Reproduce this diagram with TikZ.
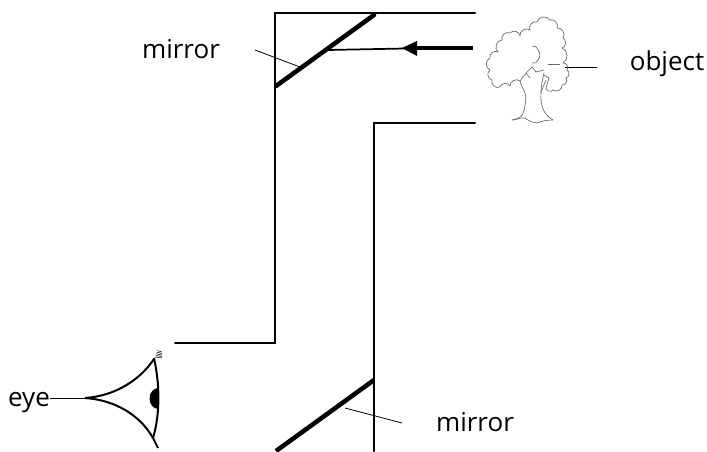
\documentclass[tikz,border=0pt]{standalone}
\usepackage{fontspec}
\setmainfont{Open Sans}
\tikzset{
  wall/.style={line width=1.5pt,line cap=round,line join=miter},
  mirrorline/.style={line width=3.4pt,line cap=round},
  leader/.style={line width=0.6pt},
  lbl/.style={font=\fontsize{19.5}{22}\selectfont,inner sep=0pt,anchor=base},
  treeline/.style={draw=black!60,line width=0.5pt,line join=round},
  scal/.style={bend left=70,looseness=1.1},
  eyeline/.style={line width=1.5pt},
}
\begin{document}
\begin{tikzpicture}[x=0.75pt,y=-0.75pt]
\useasboundingbox (0,0) rectangle (707,451);
% walls
\draw[wall] (475,13) -- (275,13) -- (275,343) -- (175,343);
\draw[wall] (475,123) -- (374,123) -- (374,451);
% mirrors
\draw[mirrorline] (276,86) -- (374,15);
\draw[mirrorline,line cap=butt] (276,451) -- (374,380);
% ray
\draw[line width=1.3pt] (327,50) -- (405,48.5);
\draw[line width=3pt] (473,48) -- (415,48);
\fill (402,48) -- (417,41) -- (417,56) -- cycle;
% labels
\node[lbl] (m1) at (181,58) {mirror};
\node[lbl] (obj) at (667,70) {object};
\node[lbl] (eyel) at (29,406) {eye};
\node[lbl] (m2) at (475,431) {mirror};
\coordinate (m1a) at (255,50);
\coordinate (m1b) at (300,67);
\coordinate (oa) at (565,67);
\coordinate (ob) at (597,67);
\coordinate (ea) at (eyel.east |- 0,398);
\coordinate (eb) at (88,398);
\coordinate (m2a) at (345,408);
\coordinate (m2b) at (402,423);
\draw[leader] (m1a) -- (m1b);
\draw[leader] (oa) -- (ob);
\draw[leader] (ea) -- (eb);
\draw[leader] (m2a) -- (m2b);
% eye
\draw[eyeline] (85,398) .. controls (115,396) and (140,380) .. (154,359);
\draw[eyeline] (85,398) .. controls (115,400) and (140,415) .. (153,438);
\draw[eyeline] (154,358) .. controls (160,385) and (160,415) .. (153,438) -- (158,448);
\fill (158.5,409) arc (90:270:9 and 10.5) -- cycle;
\foreach \i in {0,1,2,3,4}
  \draw[line width=0.4pt] (155+\i*0.6,357-\i*1.6) -- (162,358-\i*1.5);
% tree crown
\draw[treeline] (500,87) to[scal] (492,80) to[scal] (490,70) to[scal] (490,58) to[scal] (498,52)
  to[scal] (502,40) to[scal] (510,33) to[scal] (520,36) to[scal] (530,30) to[scal] (537,22)
  to[scal] (550,20) to[scal] (557,28) to[scal] (563,38) to[scal] (562,48) to[scal] (563,63)
  to[scal] (567,70) to[scal] (566,78) to[scal] (562,85) to[scal] (553,90) to[scal] (546,88);
\draw[treeline] (500,87) to[scal] (510,86) to[scal] (520,81);
\draw[treeline] (532,46) to[bend left=50] (538,50) to[bend left=40] (538,60) to[bend left=50] (532,63);
\draw[treeline] (548,64) -- (560,64);
% trunk
\draw[treeline] (520,81) .. controls (522,90) and (528,92) .. (525,105)
  .. controls (524,115) and (520,120) .. (512,120);
\draw[treeline] (512,120) to[bend left=8] (525,118) to[bend right=15] (537,123) to[bend left=10] (553,120);
\draw[treeline] (553,120) .. controls (543,114) and (540,105) .. (541,92) .. controls (541,85) and (543,78) .. (544,73);
\draw[treeline] (520,81) -- (526,73) -- (532,67) (526,73) -- (530,78)
  (532,67) -- (536,72) -- (544,70) (546,88) -- (549,78) -- (544,75) (541,92) -- (546,80);
\end{tikzpicture}
\end{document}
